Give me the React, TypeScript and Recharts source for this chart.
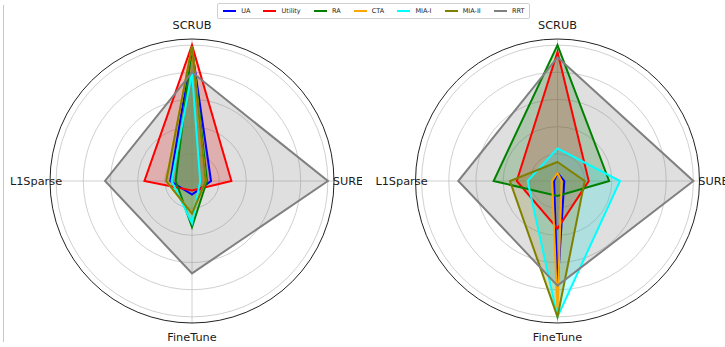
import React from 'react';
import { RadarChart, Radar, PolarGrid, PolarAngleAxis, PolarRadiusAxis } from 'recharts';

const categories = ['SCRUB', 'SURE', 'FineTune', 'L1Sparse'];
const seriesNames = ['UA', 'Utility', 'RA', 'CTA', 'MIA-I', 'MIA-II', 'RRT'];
const seriesColors = ['#0000ff', '#ff0000', '#008000', '#ffa500', '#00ffff', '#808000', '#808080'];

// Left chart values, order: SCRUB, SURE, FineTune, L1Sparse
const leftUA = [0.97, 0.14, 0.10, 0.16];
const leftUtility = [1.0, 0.29, 0.07, 0.35];
const leftRA = [0.99, 0.11, 0.34, 0.12];
const leftCTA = [0.99, 0.10, 0.24, 0.19];
const leftMIA1 = [0.80, 0.06, 0.31, 0.15];
const leftMIA2 = [0.99, 0.10, 0.24, 0.19];
const leftRRT = [0.80, 1.0, 0.68, 0.64];

// Right chart values
const rightUA = [0.06, 0.05, 0.79, 0.025];
const rightUtility = [0.95, 0.23, 0.35, 0.30];
const rightRA = [1.0, 0.38, 0.11, 0.47];
const rightCTA = [0.06, 0.03, 0.96, 0.04];
const rightMIA1 = [0.24, 0.46, 1.0, 0.22];
const rightMIA2 = [0.14, 0.20, 1.0, 0.35];
const rightRRT = [0.91, 1.0, 0.77, 0.73];

const gridValues = [0.2, 0.4, 0.6, 0.8, 1.0];
const radiusMax = 1.045;

const FONT = '"DejaVu Sans", Verdana, sans-serif';
const OUTER_R = 142;
const LABEL_R = 156;

function buildData(series: number[][]) {
  return categories.map((c, i) => {
    const row: Record<string, any> = { axis: c };
    seriesNames.forEach((n, j) => {
      row[n] = series[j][i];
    });
    return row;
  });
}

const leftData = buildData([leftUA, leftUtility, leftRA, leftCTA, leftMIA1, leftMIA2, leftRRT]);
const rightData = buildData([rightUA, rightUtility, rightRA, rightCTA, rightMIA1, rightMIA2, rightRRT]);

function makeTick(cx: number, cy: number) {
  return (props: any) => {
    const { payload } = props;
    const a = (-payload.coordinate * Math.PI) / 180;
    const x = cx + LABEL_R * Math.cos(a);
    const y = cy + LABEL_R * Math.sin(a);
    return (
      <text x={x} y={y} textAnchor="middle" dominantBaseline="central" fontSize={11.3} fontFamily={FONT} fill="#1a1a1a">
        {payload.value}
      </text>
    );
  };
}

function Radial({ data, width, cx, cy }: { data: any[]; width: number; cx: number; cy: number }) {
  const gridRadii = gridValues.map((v) => (v / radiusMax) * OUTER_R);
  return (
    <RadarChart width={width} height={347} data={data} cx={cx} cy={cy} outerRadius={OUTER_R} startAngle={90} endAngle={-270} style={{ overflow: 'visible' }}>
      <PolarGrid gridType="circle" polarRadius={gridRadii} stroke="#c4c4c4" strokeWidth={0.8} />
      <PolarGrid gridType="circle" polarRadius={[OUTER_R]} radialLines={false} stroke="#222" strokeWidth={1} />
      <PolarAngleAxis dataKey="axis" tick={makeTick(cx, cy)} axisLine={false} tickLine={false} />
      <PolarRadiusAxis domain={[0, radiusMax]} tick={false} axisLine={false} />
      {seriesNames.map((n, i) => (
        <Radar
          key={'fill-' + n}
          dataKey={n}
          name={n}
          stroke="none"
          fill={seriesColors[i]}
          fillOpacity={0.25}
          dot={false}
          legendType="none"
          isAnimationActive={false}
        />
      ))}
      {seriesNames.map((n, i) => (
        <Radar
          key={'line-' + n}
          dataKey={n}
          name={n}
          stroke={seriesColors[i]}
          strokeWidth={2}
          strokeLinejoin="miter"
          fill="none"
          fillOpacity={0}
          dot={false}
          isAnimationActive={false}
        />
      ))}
    </RadarChart>
  );
}

function LegendBox() {
  return (
    <div
      style={{
        position: 'absolute',
        left: 217,
        top: 3,
        height: 14,
        padding: '0 5px',
        border: '1px solid #d0d0d0',
        borderRadius: 2,
        background: 'rgba(255,255,255,0.85)',
        display: 'flex',
        alignItems: 'center',
        fontFamily: FONT,
        fontSize: 6.5,
        color: '#1a1a1a',
        whiteSpace: 'nowrap',
      }}
    >
      {seriesNames.map((n, i) => (
        <div key={n} style={{ display: 'flex', alignItems: 'center', marginLeft: i === 0 ? 0 : 13 }}>
          <div style={{ width: 13, height: 1.5, background: seriesColors[i], marginRight: 5.2 }} />
          <span>{n}</span>
        </div>
      ))}
    </div>
  );
}

export default function App() {
  return (
    <div style={{ position: 'absolute', left: 0, top: 0, width: 725, height: 347, background: '#fff', overflow: 'hidden' }}>
      <div style={{ position: 'absolute', left: 3, top: 5, width: 1, height: 337, background: '#c8c8c8' }} />
      <div style={{ position: 'absolute', left: 0, top: 0 }}>
        <Radial data={leftData} width={362} cx={192} cy={181} />
      </div>
      <div style={{ position: 'absolute', left: 362, top: 0 }}>
        <Radial data={rightData} width={363} cx={195.5} cy={181} />
      </div>
      <LegendBox />
    </div>
  );
}
